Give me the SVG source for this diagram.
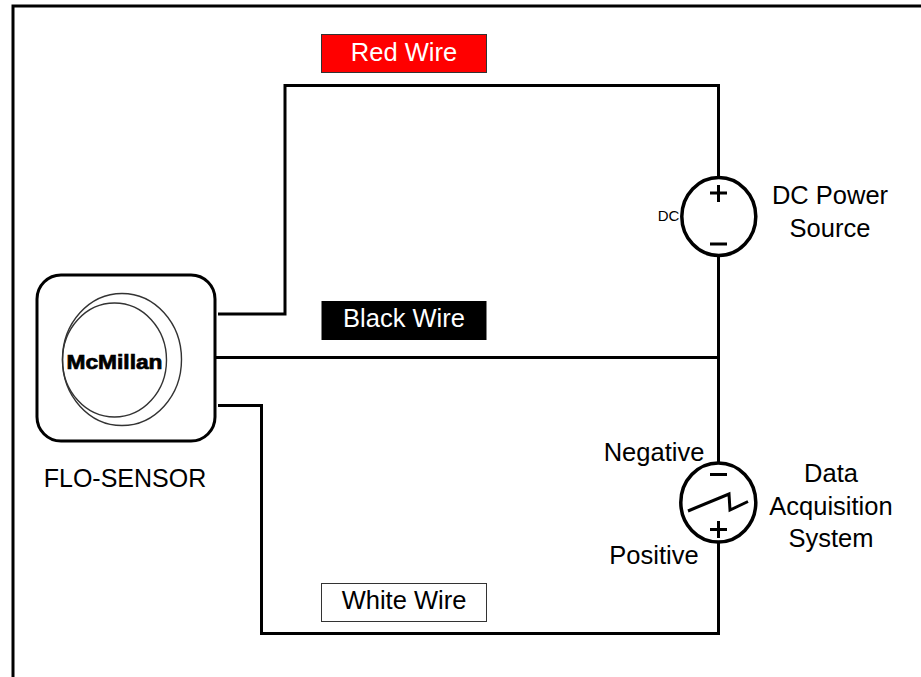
<svg xmlns="http://www.w3.org/2000/svg" width="921" height="677" viewBox="0 0 921 677">
<style>
text{font-family:"Liberation Sans",Arial,sans-serif;font-size:25.5px;fill:#000;text-anchor:middle}
.w{fill:none;stroke:#000;stroke-width:3}
.c{fill:#fff;stroke:#000;stroke-width:3.5}
.t{fill:none;stroke:#333;stroke-width:1.4}
</style>
<rect width="921" height="677" fill="#fff"/>
<path d="M13 677V6H921" fill="none" stroke="#000" stroke-width="3"/>
<g id="connectors">
<path class="w" d="M218 314H285V85.500H718.500V178"/>
<path class="w" d="M718.500 256V463"/>
<path class="w" d="M216 357.500H718.500"/>
<path class="w" d="M218 405.500H261.500V633.500H718.500V543"/>
</g>
<g id="flo-sensor">
<rect x="37" y="275" width="178" height="166" rx="24" fill="#fff" stroke="#000" stroke-width="3"/>
<ellipse class="t" cx="122" cy="359.500" rx="59.500" ry="66"/>
<ellipse class="t" cx="114.500" cy="360" rx="52" ry="57"/>
<text x="114.500" y="369" style="font-size:20px;font-weight:bold;stroke:#000;stroke-width:.7" textLength="96" lengthAdjust="spacingAndGlyphs">McMillan</text>
<text x="125" y="487" style="font-size:25px">FLO-SENSOR</text>
</g>
<g id="red-wire">
<rect x="321.500" y="34.500" width="165" height="38" fill="#f00" stroke="#333" stroke-width="1"/>
<text x="404" y="61" style="fill:#fff">Red Wire</text>
</g>
<g id="black-wire">
<rect x="321.500" y="301" width="165" height="39" fill="#000"/>
<text x="404" y="327" style="fill:#fff">Black Wire</text>
</g>
<g id="white-wire">
<rect x="321.500" y="583.500" width="165" height="38" fill="#fff" stroke="#333" stroke-width="1"/>
<text x="404" y="609">White Wire</text>
</g>
<g id="dc-power-source">
<ellipse class="c" cx="718.800" cy="216.500" rx="37" ry="39"/>
<path class="w" d="M710 193H727M718.500 185V202M710 244H727"/>
<text x="668.500" y="221" style="font-size:15px">DC</text>
<text x="830" y="204">DC Power</text>
<text x="830" y="237">Source</text>
</g>
<g id="data-acquisition-system">
<ellipse class="c" cx="718.300" cy="502.500" rx="37.500" ry="39.500"/>
<path class="w" d="M688 511L729 494L730 510L748 501.500M710 474.500H727M718.500 521V538M710 529.500H727"/>
<text x="654" y="461">Negative</text>
<text x="654" y="564">Positive</text>
<text x="831" y="482">Data</text>
<text x="831" y="515">Acquisition</text>
<text x="831" y="547">System</text>
</g>
</svg>
